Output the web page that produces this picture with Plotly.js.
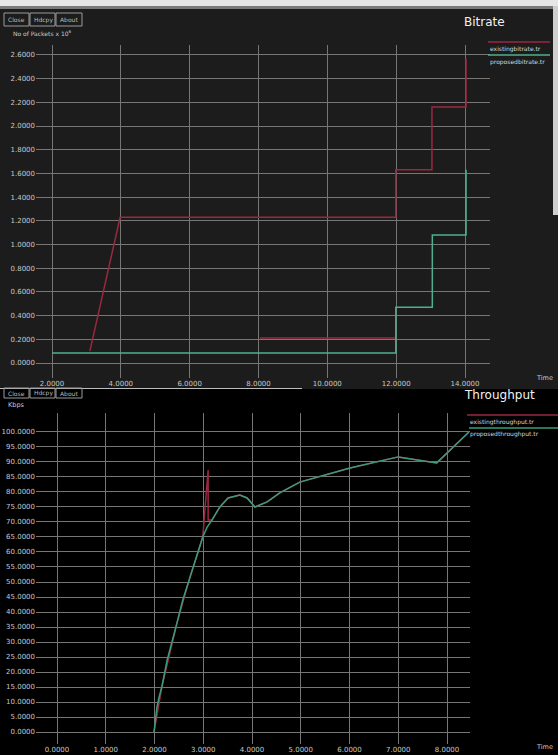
<!DOCTYPE html>
<html><head><meta charset="utf-8">
<script src="https://cdn.plot.ly/plotly-3.0.1.min.js"></script>
<style>html,body{margin:0;padding:0;background:#000;}#c{width:558px;height:755px;}</style>
</head><body><div id="c"></div>
<script>
// ---- Bitrate (top) data ----
const bitTicksX = [2, 4, 6, 8, 10, 12, 14];
const bitTicksY = [0, 0.2, 0.4, 0.6, 0.8, 1.0, 1.2, 1.4, 1.6, 1.8, 2.0, 2.2, 2.4, 2.6];
const existingBitT = [3.1, 3.98, 11.99, 11.99, 13.04, 13.04, 14.03, 14.03, null, 8.04, 11.99];
const existingBitV = [0.10, 1.23, 1.23, 1.63, 1.63, 2.16, 2.16, 2.57, null, 0.21, 0.21];
const proposedBitT = [2.0, 11.99, 11.99, 13.05, 13.05, 14.03, 14.03];
const proposedBitV = [0.085, 0.085, 0.47, 0.47, 1.08, 1.08, 1.63];

// ---- Throughput (bottom) data ----
const thrTicksX = [0, 1, 2, 3, 4, 5, 6, 7, 8];
const thrTicksY = [0,5,10,15,20,25,30,35,40,45,50,55,60,65,70,75,80,85,90,95,100];
const proposedThrT = [1.99, 2.05, 2.10, 2.15, 2.26, 2.36, 2.46, 2.58, 2.73, 2.87, 2.99, 3.08, 3.18, 3.34, 3.51, 3.75, 3.90, 4.06, 4.31, 4.57, 4.98, 6.01, 7.00, 7.79, 8.45];
const proposedThrV = [0, 8.3, 12, 15, 24, 29.7, 36.3, 44, 51.7, 58.3, 65, 68.3, 70.7, 75, 78, 79, 78, 75, 76.7, 79.7, 83.3, 88, 91.7, 89.7, 100];
const existingThrT = [1.99, 2.15, 2.46, 2.73, 2.99, 3.10, 3.10, 3.18, 3.34, 3.51, 3.75, 3.90, 4.06, 4.31, 4.57, 4.98, 6.01, 7.00, 7.79, 8.45];
const existingThrV = [0, 15, 36.3, 51.7, 65, 87.3, 70.7, 70.7, 75, 78, 79, 78, 75, 76.7, 79.7, 83.3, 88, 91.7, 89.7, 100];

const RED = '#9a2840', GREEN = '#4fae8e', GREEN2 = '#3a9c7c';
const W = 558, H = 755;
const px = x => x / W, py = y => 1 - y / H;
const FONT = 'DejaVu Sans';

const traces = [
  {x: existingBitT, y: existingBitV, xaxis: 'x', yaxis: 'y', mode: 'lines', line: {color: RED, width: 1.5}, connectgaps: false},
  {x: proposedBitT, y: proposedBitV, xaxis: 'x', yaxis: 'y', mode: 'lines', line: {color: GREEN, width: 1.5}},
  {x: existingThrT, y: existingThrV, xaxis: 'x2', yaxis: 'y2', mode: 'lines', line: {color: RED, width: 1.5}},
  {x: proposedThrT, y: proposedThrV, xaxis: 'x2', yaxis: 'y2', mode: 'lines', line: {color: GREEN2, width: 1.5}}
];

const axBase = {showline: false, zeroline: false, ticks: '', gridcolor: '#767676', gridwidth: 1,
  tickfont: {family: FONT, size: 7, color: '#c8c8c8'}, tickformat: '.4f', tickmode: 'array', fixedrange: true};

const shapes = [
  {type: 'rect', xref: 'paper', yref: 'paper', x0: 0, x1: 1, y0: py(389), y1: py(0), fillcolor: '#1c1c1c', line: {width: 0}, layer: 'below'},
  {type: 'rect', xref: 'paper', yref: 'paper', x0: 0, x1: 1, y0: py(6), y1: py(0), fillcolor: '#e6e6e6', line: {width: 0}, layer: 'below'},
  {type: 'rect', xref: 'paper', yref: 'paper', x0: 0, x1: 1, y0: py(9), y1: py(6), fillcolor: '#7a7a7a', line: {width: 0}, layer: 'below'},
  {type: 'rect', xref: 'paper', yref: 'paper', x0: px(553), x1: 1, y0: py(215), y1: py(6), fillcolor: '#cfcfcf', line: {width: 0}, layer: 'below'},
  {type: 'line', xref: 'paper', yref: 'paper', x0: 0, x1: px(302), y0: py(388.5), y1: py(388.5), line: {color: '#bdbdbd', width: 1}},
  {type: 'line', xref: 'paper', yref: 'paper', x0: px(488), x1: px(550), y0: py(42), y1: py(42), line: {color: RED, width: 1.5}},
  {type: 'line', xref: 'paper', yref: 'paper', x0: px(488), x1: px(550), y0: py(55), y1: py(55), line: {color: GREEN, width: 1.5}},
  {type: 'line', xref: 'paper', yref: 'paper', x0: px(467), x1: px(558), y0: py(415), y1: py(415), line: {color: RED, width: 1.5}},
  {type: 'line', xref: 'paper', yref: 'paper', x0: px(469), x1: px(558), y0: py(428), y1: py(428), line: {color: GREEN2, width: 1.5}}
];

function buttons(yTop, h) {
  const xs = [[4, 29], [30, 55], [56, 82]];
  xs.forEach(b => shapes.push({type: 'rect', xref: 'paper', yref: 'paper', x0: px(b[0]), x1: px(b[1]), y0: py(yTop + h), y1: py(yTop),
    fillcolor: 'rgba(0,0,0,0)', line: {color: '#9a9a9a', width: 1}}));
}
buttons(13, 13);
buttons(388, 10);

const ann = (x, y, text, size, color, xanchor) => ({xref: 'paper', yref: 'paper', x: px(x), y: py(y), text: text, showarrow: false,
  xanchor: xanchor || 'left', yanchor: 'middle', font: {family: FONT, size: size, color: color}});

const annotations = [
  ann(6, 19.5, 'Close', 6, '#bbbbbb'), ann(31.5, 19.5, 'Hdcpy', 6, '#bbbbbb'), ann(57.5, 19.5, 'About', 6, '#bbbbbb'),
  ann(6, 393, 'Close', 6, '#bbbbbb'), ann(31.5, 393, 'Hdcpy', 6, '#bbbbbb'), ann(57.5, 393, 'About', 6, '#bbbbbb'),
  ann(11, 33, 'No of Packets x 10<sup>6</sup>', 6, '#cccccc'),
  ann(6, 405, 'Kbps', 6.5, '#cccccc'),
  ann(462, 22, 'Bitrate', 12, '#f2f2f2'),
  ann(462, 395, 'Throughput', 12, '#f2f2f2'),
  ann(488, 48.5, 'existingbitrate.tr', 6, '#d8d8d8'),
  ann(488, 61.5, 'proposedbitrate.tr', 6, '#d8d8d8'),
  ann(468, 421.5, 'existingthroughput.tr', 6, '#d8d8d8'),
  ann(468, 434, 'proposedthroughput.tr', 6, '#d8d8d8'),
  ann(555, 378, 'Time', 6.5, '#cccccc', 'right'),
  ann(555, 747, 'Time', 6.5, '#cccccc', 'right')
];

const layout = {
  width: W, height: H, margin: {l: 0, r: 0, t: 0, b: 0},
  paper_bgcolor: '#000', plot_bgcolor: 'rgba(0,0,0,0)', showlegend: false,
  xaxis: Object.assign({}, axBase, {domain: [px(36), px(490)], range: [1.5352, 14.726], tickvals: bitTicksX, anchor: 'y'}),
  yaxis: Object.assign({}, axBase, {domain: [py(378), py(45)], range: [-0.1266, 2.6835], tickvals: bitTicksY, anchor: 'x'}),
  xaxis2: Object.assign({}, axBase, {domain: [px(36), px(470)], range: [-0.4308, 8.4718], tickvals: thrTicksX, anchor: 'y2'}),
  yaxis2: Object.assign({}, axBase, {domain: [py(744), py(413)], range: [-4, 106.33], tickvals: thrTicksY, anchor: 'x2'}),
  shapes: shapes, annotations: annotations
};

Plotly.newPlot('c', traces, layout, {staticPlot: true, displayModeBar: false});
</script></body></html>
